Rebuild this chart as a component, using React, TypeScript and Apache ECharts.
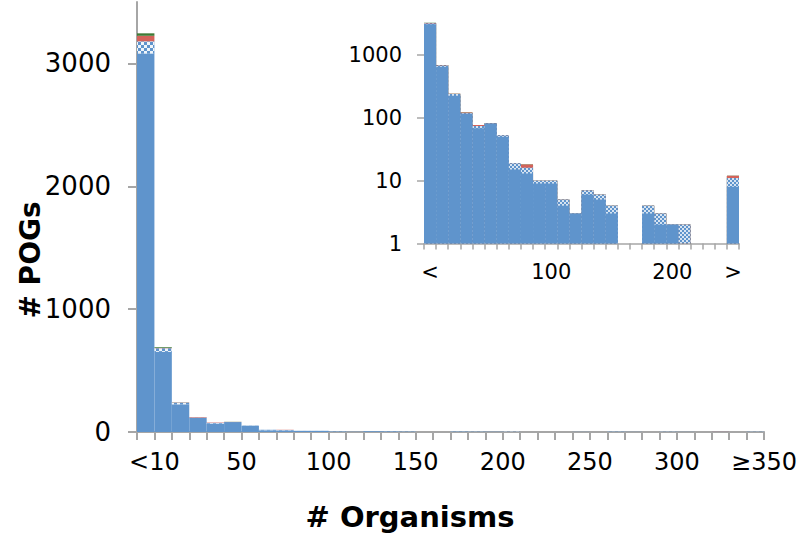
import React, { useEffect, useRef } from 'react';
import * as echarts from 'echarts';

// ---- data (counts of POGs per bin of # organisms) ----
const binCount = 36;
const mainCategories: string[] = ['<10'];
for (let i = 1; i < binCount - 1; i++) mainCategories.push(`${i * 10}-${i * 10 + 9}`);
mainCategories.push('≥350');

const blueValues = [3080, 652, 225, 116, 68, 81, 50, 15, 13, 9, 9, 4, 3, 6, 5, 3, 0, 0, 3, 2, 2, 1, 0, 0, 0, 1, 0, 2, 1, 0, 1, 1, 0, 1, 0, 1];
const checkValues = [100, 30, 14, 2, 6, 0, 3, 4, 3, 1, 1, 1, 0, 1, 1, 1, 0, 0, 1, 1, 0, 1, 0, 0, 0, 0, 0, 1, 0, 0, 1, 0, 0, 0, 0, 1];
const redValues = [45, 2, 2, 4, 3, 1, 0, 0, 2, 0, 0, 0, 0, 0, 0, 0, 0, 0, 0, 0, 0, 0, 0, 0, 0, 0, 0, 0, 0, 0, 0, 0, 0, 1, 0, 0];
const greenValues = [20, 6, 1, 0, 0, 1, 0, 0, 0, 0, 0, 0, 0, 0, 0, 0, 0, 0, 0, 0, 0, 0, 0, 0, 0, 0, 0, 0, 0, 0, 0, 0, 0, 0, 0, 0];

// main x-axis tick labels, placed on bin boundaries 1, 6, 11, ...
const mainTickTexts = ['<10', '50', '100', '150', '200', '250', '300', '≥350'];
const mainTickBoundaries = [1, 6, 11, 16, 21, 26, 31, 36];
// main y ticks
const mainYTicks = [0, 1000, 2000, 3000];
const mainYMax = 3500;

// inset: first 25 bins, last bin aggregates everything from 250 on
const insetBinCount = 26;
const insetTickTexts = ['<', '100', '200', '>'];
const insetTickIndices = [0, 10, 20, 25];
const insetYTicks = [1, 10, 100, 1000];
const insetYMax = 7500;

const BLUE = '#5f94cc';
const RED = '#d4625a';
const GREEN = '#3f7a35';
const AXIS = '#a6a6a6';
const FONT = 'DejaVu Sans';

function insetOf(arr: number[]): number[] {
  const head = arr.slice(0, insetBinCount - 1);
  const tail = arr.slice(insetBinCount - 1).reduce((a, b) => a + b, 0);
  return [...head, tail];
}

export default function App() {
  const ref = useRef<HTMLDivElement>(null);

  useEffect(() => {
    if (!ref.current) return;
    const chart = echarts.init(ref.current, null, { renderer: 'svg' });

    const boundaryLabels: string[] = [];
    for (let i = 0; i <= binCount; i++) {
      const k = mainTickBoundaries.indexOf(i);
      boundaryLabels.push(k >= 0 ? mainTickTexts[k] : '');
    }
    const insetLabels: string[] = [];
    for (let i = 0; i < insetBinCount; i++) {
      const k = insetTickIndices.indexOf(i);
      insetLabels.push(k >= 0 ? insetTickTexts[k] : '');
    }

    const ib = insetOf(blueValues);
    const ic = insetOf(checkValues);
    const ir = insetOf(redValues);
    const ig = insetOf(greenValues);
    const s1 = ib.map((v) => v);
    const s2 = s1.map((v, i) => v + ic[i]);
    const s3 = s2.map((v, i) => v + ir[i]);
    const s4 = s3.map((v, i) => v + ig[i]);
    const nz = (a: number[]) => a.map((v) => (v > 0 ? v : '-'));

    const mainDecal = {
      symbol: 'rect',
      symbolSize: 1,
      color: 'rgba(255,255,255,0.9)',
      dashArrayX: [[3, 3], [0, 3, 3, 0]],
      dashArrayY: [3, 0],
    };
    const insetDecal = {
      symbol: 'rect',
      symbolSize: 1,
      color: 'rgba(255,255,255,0.75)',
      dashArrayX: [[2, 2], [0, 2, 2, 0]],
      dashArrayY: [2, 0],
    };

    const mainSeries = [
      { name: 'blue', data: blueValues, color: BLUE, decal: undefined as any },
      { name: 'check', data: checkValues, color: BLUE, decal: mainDecal },
      { name: 'red', data: redValues, color: RED, decal: undefined },
      { name: 'green', data: greenValues, color: GREEN, decal: undefined },
    ].map((s) => ({
      type: 'bar',
      name: s.name,
      xAxisIndex: 0,
      yAxisIndex: 0,
      stack: 'main',
      barCategoryGap: '0%',
      data: s.data,
      itemStyle: s.decal ? { color: s.color, decal: s.decal } : { color: s.color },
      silent: true,
    }));

    const insetSeries = [
      { name: 'i-green', data: nz(s4), color: GREEN, decal: undefined as any },
      { name: 'i-red', data: nz(s3), color: RED, decal: undefined },
      { name: 'i-check', data: nz(s2), color: BLUE, decal: insetDecal },
      { name: 'i-blue', data: nz(s1), color: BLUE, decal: undefined },
    ].map((s) => ({
      type: 'bar',
      name: s.name,
      xAxisIndex: 2,
      yAxisIndex: 1,
      barGap: '-100%',
      barCategoryGap: '0%',
      data: s.data,
      itemStyle: s.decal ? { color: s.color, decal: s.decal } : { color: s.color },
      silent: true,
    }));

    chart.setOption({
      animation: false,
      backgroundColor: '#ffffff',
      textStyle: { fontFamily: FONT },
      grid: [
        { left: 137, right: 29, top: 2, bottom: 105 },
        { left: 424, right: 61, top: 0, bottom: 293.5 },
      ],
      xAxis: [
        {
          type: 'category',
          gridIndex: 0,
          position: 'bottom',
          data: mainCategories,
          boundaryGap: true,
          axisLine: { show: false },
          axisTick: { show: false },
          axisLabel: { show: false },
        },
        {
          type: 'category',
          gridIndex: 0,
          position: 'bottom',
          data: boundaryLabels,
          boundaryGap: false,
          axisLine: { show: true, lineStyle: { color: AXIS, width: 2 } },
          axisTick: { show: true, interval: 0, length: 8, lineStyle: { color: AXIS, width: 2 } },
          axisLabel: { interval: 0, fontSize: 24, margin: 18, color: '#000', fontFamily: FONT },
        },
        {
          type: 'category',
          gridIndex: 1,
          position: 'bottom',
          data: insetLabels,
          boundaryGap: true,
          axisLine: { show: true, lineStyle: { color: AXIS, width: 1.5 } },
          axisTick: { show: true, interval: 0, length: 6, lineStyle: { color: AXIS, width: 1.5 } },
          axisLabel: { interval: 0, fontSize: 21, margin: 18, color: '#000', fontFamily: FONT },
        },
      ],
      yAxis: [
        {
          type: 'value',
          gridIndex: 0,
          min: 0,
          max: mainYMax,
          axisLine: { show: true, lineStyle: { color: AXIS, width: 2 } },
          axisTick: { show: true, length: 9, customValues: mainYTicks, lineStyle: { color: AXIS, width: 2 } },
          splitLine: { show: false },
          axisLabel: {
            fontSize: 26,
            margin: 26,
            color: '#000',
            fontFamily: FONT,
            customValues: mainYTicks,
            formatter: (v: number) => String(v),
          },
        },
        {
          type: 'log',
          logBase: 10,
          gridIndex: 1,
          min: 1,
          max: insetYMax,
          axisLine: { show: false },
          axisTick: { show: true, length: 7, customValues: insetYTicks, lineStyle: { color: AXIS, width: 1.5 } },
          splitLine: { show: false },
          minorTick: { show: false },
          axisLabel: {
            fontSize: 21,
            margin: 22,
            color: '#000',
            fontFamily: FONT,
            customValues: insetYTicks,
            formatter: (v: number) => String(Math.round(v)),
          },
        },
      ],
      graphic: [
        {
          type: 'text',
          x: 30,
          y: 260,
          rotation: Math.PI / 2,
          style: {
            text: '# POGs',
            font: `bold 28px "${FONT}"`,
            fill: '#000',
            align: 'center',
            verticalAlign: 'middle',
          },
        },
        {
          type: 'text',
          x: 410,
          y: 517,
          style: {
            text: '# Organisms',
            font: `bold 29px "${FONT}"`,
            fill: '#000',
            align: 'center',
            verticalAlign: 'middle',
          },
        },
      ],
      series: [...mainSeries, ...insetSeries],
    });

    return () => chart.dispose();
  }, []);

  return (
    <div
      ref={ref}
      style={{ position: 'absolute', left: 0, top: 0, width: 800, height: 537 }}
    />
  );
}
